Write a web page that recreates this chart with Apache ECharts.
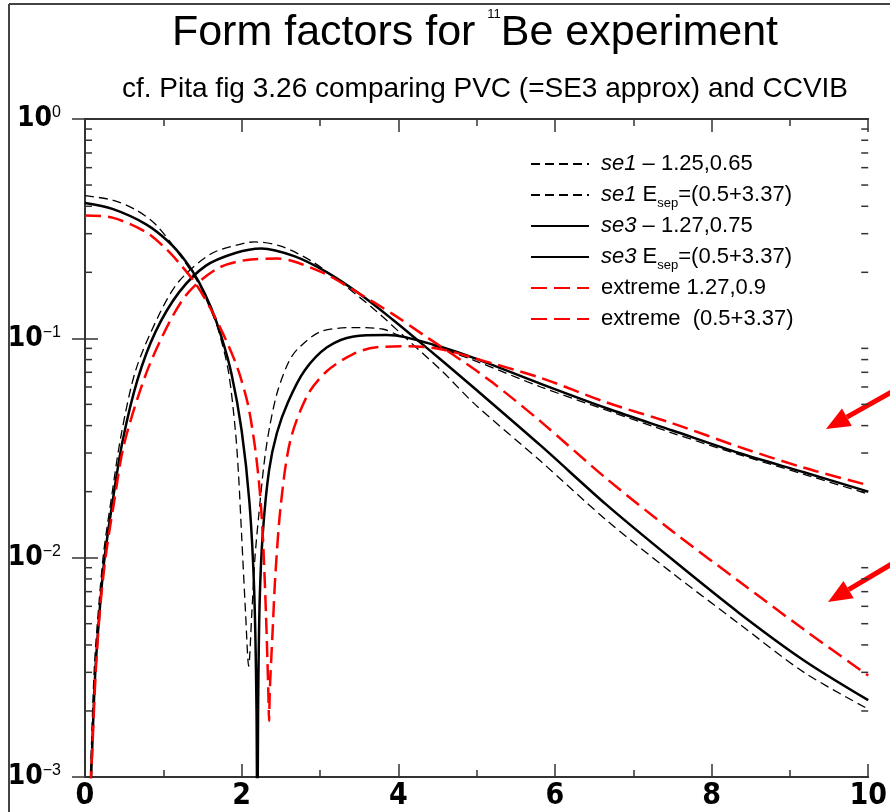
<!DOCTYPE html>
<html>
<head>
<meta charset="utf-8">
<script src="https://cdn.jsdelivr.net/npm/echarts@6/dist/echarts.min.js"></script>
<style>
html, body { margin: 0; padding: 0; background: #fff; }
#main { width: 890px; height: 812px; }
</style>
</head>
<body>
<div id="main"></div>
<script>
// x ticks and y minor ticks
var xTicks = [0, 2, 4, 6, 8, 10];
var yMinorTicks = [0.002, 0.003, 0.004, 0.005, 0.006, 0.007, 0.008, 0.009,
                   0.02, 0.03, 0.04, 0.05, 0.06, 0.07, 0.08, 0.09,
                   0.2, 0.3, 0.4, 0.5, 0.6, 0.7, 0.8, 0.9];

// se1 - 1.25,0.65 (curve with the dip)
var se1aX = [0, 0.35, 0.65, 0.9, 1.2, 1.45, 1.6, 1.7, 1.83, 1.92, 1.96, 2.0, 2.05, 2.09, 2.13, 2.17, 2.22, 2.29, 2.36, 2.46, 2.6, 2.71, 3.0, 3.43, 3.81, 4.0, 4.3, 4.98, 5.82, 6.66, 7.5, 8.35, 9.18, 10];
var se1aY = [0.447, 0.427, 0.385, 0.331, 0.243, 0.178, 0.136, 0.110, 0.071, 0.038, 0.024, 0.0126, 0.0056, 0.0032, 0.0056, 0.010, 0.0158, 0.0275, 0.040, 0.0575, 0.078, 0.089, 0.107, 0.112, 0.110, 0.1035, 0.0966, 0.079, 0.060, 0.047, 0.037, 0.0295, 0.024, 0.0195];

// se1 Esep
var se1bX = [0.06, 0.07, 0.12, 0.18, 0.24, 0.34, 0.46, 0.65, 0.95, 1.2, 1.61, 2.04, 2.17, 2.5, 2.9, 3.3, 3.72, 4.1, 4.56, 4.98, 5.82, 6.66, 7.5, 8.35, 9.18, 10];
var se1bY = [0.0009, 0.00105, 0.0032, 0.0063, 0.0107, 0.019, 0.036, 0.072, 0.129, 0.182, 0.243, 0.272, 0.275, 0.263, 0.224, 0.176, 0.133, 0.100, 0.0708, 0.050, 0.0275, 0.0148, 0.0085, 0.0050, 0.0030, 0.00204];

// se3 - 1.27,0.75 (curve with the dip)
var se3aX = [0, 0.35, 0.78, 1.07, 1.28, 1.45, 1.61, 1.74, 1.87, 2.0, 2.1, 2.16, 2.19, 2.2, 2.21, 2.23, 2.27, 2.35, 2.45, 2.59, 2.8, 3.09, 3.43, 3.85, 4.1, 4.56, 4.98, 5.82, 6.66, 7.5, 8.35, 9.18, 10];
var se3aY = [0.414, 0.389, 0.331, 0.275, 0.226, 0.182, 0.138, 0.102, 0.069, 0.038, 0.0178, 0.0071, 0.0020, 0.0004, 0.002, 0.0063, 0.0129, 0.025, 0.037, 0.051, 0.071, 0.091, 0.102, 0.1035, 0.101, 0.091, 0.081, 0.062, 0.048, 0.038, 0.030, 0.0245, 0.020];

// se3 Esep
var se3bX = [0.07, 0.08, 0.13, 0.19, 0.25, 0.35, 0.48, 0.67, 0.9, 1.2, 1.54, 1.92, 2.25, 2.67, 3.09, 3.5, 3.93, 4.19, 4.56, 4.98, 5.82, 6.66, 7.5, 8.35, 9.18, 10];
var se3bY = [0.0009, 0.00105, 0.00295, 0.0059, 0.010, 0.0178, 0.034, 0.0646, 0.107, 0.162, 0.214, 0.245, 0.257, 0.237, 0.200, 0.160, 0.1216, 0.102, 0.079, 0.0589, 0.0324, 0.0174, 0.0098, 0.0056, 0.0034, 0.00224];

// extreme 1.27,0.9 (curve with the dip)
var extAX = [0, 0.35, 0.78, 1.03, 1.2, 1.41, 1.62, 1.83, 1.96, 2.08, 2.17, 2.23, 2.27, 2.31, 2.34, 2.35, 2.36, 2.4, 2.43, 2.5, 2.62, 2.84, 3.09, 3.43, 3.72, 4.14, 4.56, 4.98, 5.82, 6.66, 7.5, 8.35, 9.18, 10];
var extAY = [0.363, 0.355, 0.305, 0.257, 0.221, 0.178, 0.133, 0.093, 0.071, 0.050, 0.032, 0.0204, 0.0126, 0.0056, 0.0025, 0.0018, 0.0025, 0.005, 0.0083, 0.0174, 0.034, 0.055, 0.071, 0.085, 0.091, 0.092, 0.089, 0.081, 0.066, 0.051, 0.041, 0.032, 0.0257, 0.0214];

// extreme (0.5+3.37)
var extBX = [0.07, 0.09, 0.14, 0.2, 0.27, 0.37, 0.5, 0.78, 1.07, 1.32, 1.7, 2.12, 2.45, 2.67, 3.09, 3.5, 3.93, 4.35, 4.77, 5.2, 5.82, 6.66, 7.5, 8.35, 9.18, 10];
var extBY = [0.0009, 0.00126, 0.00316, 0.0063, 0.0105, 0.0178, 0.033, 0.069, 0.117, 0.162, 0.209, 0.229, 0.231, 0.224, 0.195, 0.160, 0.129, 0.102, 0.081, 0.063, 0.0417, 0.0229, 0.0132, 0.0078, 0.0047, 0.0029];

var legendNames = ['se1 – 1.25,0.65', 'se1 Esep=(0.5+3.37)', 'se3 – 1.27,0.75', 'se3 Esep=(0.5+3.37)', 'extreme 1.27,0.9', 'extreme  (0.5+3.37)'];
var legendRich = {
    'se1 – 1.25,0.65': '{it|se1} – 1.25,0.65',
    'se1 Esep=(0.5+3.37)': '{it|se1} E{sub|sep}=(0.5+3.37)',
    'se3 – 1.27,0.75': '{it|se3} – 1.27,0.75',
    'se3 Esep=(0.5+3.37)': '{it|se3} E{sub|sep}=(0.5+3.37)',
    'extreme 1.27,0.9': 'extreme 1.27,0.9',
    'extreme  (0.5+3.37)': 'extreme  (0.5+3.37)'
};

function pairs(xs, ys) {
    var out = [];
    for (var i = 0; i < xs.length; i++) out.push([xs[i], ys[i]]);
    return out;
}

function curve(name, xs, ys, color, width, dash) {
    return {
        name: name,
        type: 'line',
        data: pairs(xs, ys),
        symbol: 'none',
        smooth: 0.3,
        clip: true,
        itemStyle: { color: color },
        lineStyle: { color: color, width: width, type: dash }
    };
}

var narrow = "'Liberation Sans Narrow', 'DejaVu Sans Condensed', 'Liberation Sans', sans-serif";
var sans = "'Liberation Sans', Arial, sans-serif";

var myChart = echarts.init(document.getElementById('main'));

// arrow annotations (tip, tail)
function arrow(tip, tail) {
    var dx = tail[0] - tip[0], dy = tail[1] - tip[1];
    var len = Math.sqrt(dx * dx + dy * dy);
    var ux = dx / len, uy = dy / len;
    var bx = tip[0] + ux * 24, by = tip[1] + uy * 24;
    return [
        { type: 'line', shape: { x1: tail[0], y1: tail[1], x2: bx, y2: by }, style: { stroke: '#ff0000', lineWidth: 5 } },
        { type: 'polygon', shape: { points: [tip, [bx - uy * 10, by + ux * 10], [bx + uy * 10, by - ux * 10]] }, style: { fill: '#ff0000' } }
    ];
}

var option = {
    backgroundColor: '#fff',
    animation: false,
    title: [{
        text: 'Form factors for {s|11}Be experiment',
        left: 470,
        top: 3,
        textAlign: 'center',
        textStyle: {
            fontFamily: sans,
            fontSize: 43,
            fontWeight: 'normal',
            color: '#000',
            lineHeight: 50,
            rich: { s: { fontSize: 13, lineHeight: 16, verticalAlign: 'top', color: '#000' } }
        }
    }, {
        text: 'cf. Pita fig 3.26 comparing PVC (=SE3 approx) and CCVIB',
        left: 480,
        top: 70,
        textAlign: 'center',
        textStyle: {
            fontFamily: sans,
            fontSize: 28,
            fontWeight: 'normal',
            color: '#000'
        }
    }],
    legend: {
        data: legendNames,
        orient: 'vertical',
        left: 530,
        top: 149,
        padding: 0,
        itemWidth: 58,
        itemHeight: 14,
        itemGap: 1,
        itemStyle: { opacity: 0 },
        formatter: function (name) { return legendRich[name]; },
        textStyle: {
            fontFamily: sans,
            fontSize: 22,
            color: '#000',
            lineHeight: 30,
            padding: [0, 0, 0, 7],
            rich: {
                it: { fontStyle: 'italic', fontSize: 22, lineHeight: 30, color: '#000' },
                sub: { fontSize: 13, lineHeight: 13, verticalAlign: 'bottom', color: '#000' }
            }
        }
    },
    grid: { left: 85, right: 12, top: 119, bottom: 35, containLabel: false },
    xAxis: [{
        type: 'value',
        min: 0,
        max: 10,
        interval: 2,
        axisLine: { lineStyle: { color: '#333', width: 2 } },
        axisTick: { inside: true, length: 13, lineStyle: { color: '#333', width: 1.5 } },
        minorTick: { show: true, splitNumber: 2, length: 7, lineStyle: { color: '#333', width: 1.5 } },
        splitLine: { show: false },
        axisLabel: {
            margin: 4,
            fontFamily: narrow,
            fontSize: 30,
            fontWeight: 'bold',
            color: '#000',
            formatter: function (v) { return xTicks.indexOf(v) >= 0 ? String(v) : ''; }
        }
    }, {
        type: 'value',
        position: 'top',
        min: 0,
        max: 10,
        interval: 2,
        axisLine: { lineStyle: { color: '#333', width: 2 } },
        axisTick: { inside: true, length: 13, lineStyle: { color: '#333', width: 1.5 } },
        minorTick: { show: true, splitNumber: 2, length: 7, lineStyle: { color: '#333', width: 1.5 } },
        splitLine: { show: false },
        axisLabel: { show: false }
    }],
    yAxis: [{
        type: 'log',
        logBase: 10,
        min: 0.001,
        max: 1,
        axisLine: { show: true, lineStyle: { color: '#333', width: 2 } },
        axisTick: { inside: true, length: 13, lineStyle: { color: '#333', width: 1.5 } },
        splitLine: { show: false },
        axisLabel: {
            margin: 24,
            fontFamily: narrow,
            fontSize: 28,
            fontWeight: 'bold',
            color: '#000',
            formatter: function (v) {
                var e = Math.round(Math.log(v) / Math.LN10);
                return '10{sup|' + (e < 0 ? '−' + (-e) : e) + '}';
            },
            rich: {
                sup: { fontFamily: sans, fontSize: 16, fontWeight: 'normal', lineHeight: 16, verticalAlign: 'top', color: '#000' }
            }
        }
    }, {
        type: 'log',
        logBase: 10,
        position: 'right',
        min: 0.001,
        max: 1,
        axisLine: { show: true, lineStyle: { color: '#333', width: 2 } },
        axisTick: { inside: true, length: 13, lineStyle: { color: '#333', width: 1.5 } },
        splitLine: { show: false },
        axisLabel: { show: false }
    }],
    series: [
        curve(legendNames[0], se1aX, se1aY, '#000', 1.3, [9, 5]),
        curve(legendNames[1], se1bX, se1bY, '#000', 1.3, [9, 5]),
        curve(legendNames[2], se3aX, se3aY, '#000', 2.5, 'solid'),
        curve(legendNames[3], se3bX, se3bY, '#000', 2.5, 'solid'),
        curve(legendNames[4], extAX, extAY, '#ff0000', 2.5, [16, 7]),
        curve(legendNames[5], extBX, extBY, '#ff0000', 2.5, [16, 7]),
        {
            type: 'custom',
            silent: true,
            data: yMinorTicks.map(function (v) { return [0, v]; }),
            renderItem: function (params, api) {
                var v = api.value(1);
                var l = api.coord([0, v]);
                var r = api.coord([10, v]);
                return {
                    type: 'group',
                    children: [
                        { type: 'line', shape: { x1: l[0], y1: l[1], x2: l[0] + 7, y2: l[1] }, style: { stroke: '#333', lineWidth: 1.5 } },
                        { type: 'line', shape: { x1: r[0], y1: r[1], x2: r[0] - 7, y2: r[1] }, style: { stroke: '#333', lineWidth: 1.5 } }
                    ]
                };
            }
        }
    ],
    graphic: [
        { type: 'line', shape: { x1: 9, y1: 4, x2: 890, y2: 4 }, style: { stroke: '#444', lineWidth: 2 } },
        { type: 'line', shape: { x1: 9, y1: 4, x2: 9, y2: 812 }, style: { stroke: '#444', lineWidth: 2 } },
        { type: 'group', children: arrow([826, 429], [895, 390]) },
        { type: 'group', children: arrow([828, 602], [895, 562]) }
    ]
};

myChart.setOption(option);
</script>
</body>
</html>
